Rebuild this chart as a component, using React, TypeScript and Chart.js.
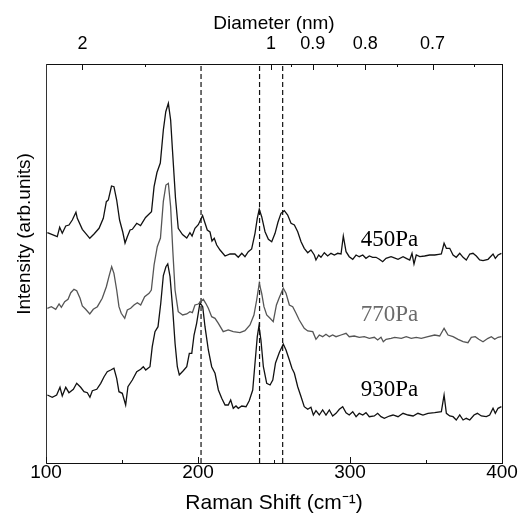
import React, { useEffect, useRef } from 'react';
import { Chart, registerables } from 'chart.js';

Chart.register(...registerables);

// ---- Data (Raman shift in cm^-1, intensity in arbitrary units, traces offset) ----
const shift450 = [100.9,107.4,109.0,110.7,113.0,115.1,117.3,119.7,120.6,123.9,126.1,128.8,131.6,134.9,137.7,139.7,141.0,143.1,144.7,146.5,148.4,150.5,152.0,153.5,155.3,156.8,159.7,162.2,165.5,169.4,171.1,173.0,175.2,177.2,178.8,180.5,182.0,183.2,185.2,187.0,189.8,192.6,194.7,196.1,198.0,200.2,203.0,204.6,206.1,207.9,209.2,210.7,212.3,214.5,217.8,221.1,224.3,226.5,228.8,230.9,233.1,235.3,237.5,239.0,240.3,241.9,244.1,246.3,248.5,250.7,252.6,254.6,256.8,259.0,261.2,263.4,265.6,267.8,269.9,272.2,274.3,276.5,277.6,279.4,280.9,283.1,285.3,287.5,289.7,291.9,294.1,295.6,297.4,299.5,301.8,304.0,306.1,308.4,310.5,312.7,314.9,317.1,319.3,321.5,323.7,327.0,328.3,331.6,334.9,337.0,339.3,340.8,342.1,343.6,345.9,349.1,352.4,355.7,358.4,360.1,361.9,363.4,365.6,367.8,369.9,372.2,374.4,376.5,378.8,380.9,383.1,385.3,387.5,390.8,394.1,395.6,397.4,399.6];
const int450 = [230.3,226.3,235.7,229.7,237,238,243,250.7,244.7,233.7,229.7,224.7,229,234.7,244.7,261.3,263,277,276.3,263,243,231,220,226.3,233,233.7,239.7,237.5,245.5,251.3,276.3,290.5,300,333,351.3,359.7,343,313,264.7,234.7,228.5,225,230.3,227,234.7,238.3,247.5,240,233,231,222,224.7,218,213,207,209,209,205.7,209.7,206.3,211.3,214,229.7,244.7,253.7,246.3,231.3,223.7,221.3,229.7,240.7,249.7,252.3,248,239.7,238,231.3,221.3,214.7,210.3,213,208,203,208,205.7,210.3,207,209.7,208,209.7,209,227,211.3,206.3,203.7,208,206.3,208,204.7,207,205.7,205.7,203.7,201.3,204.7,206.3,205.7,203.7,206.3,204.7,203,209.7,199,208,206.3,207,208,208,208.7,209,219.7,214.7,214.7,208,205.7,209.7,205.7,203,209,209.7,207,203,202.3,203.7,209,204.7,208,209.7];

const shift770 = [100.9,103.5,106.4,108.6,110.1,112.3,114.5,116.3,118.4,120.2,122.4,123.9,126.1,128.8,131.1,133.8,137.0,139.7,141.4,143.2,144.7,146.5,148.0,149.5,151.8,153.5,155.7,157.9,160.1,162.3,164.9,167.8,169.3,171.1,173.2,175.3,177.2,178.9,180.5,182.0,183.4,184.9,187.0,189.9,192.6,194.7,196.3,198.0,200.2,201.8,203.5,205.1,206.8,209.0,211.2,213.4,216.6,219.9,223.2,227.6,230.9,234.2,236.8,238.6,240.3,241.9,243.4,245.2,247.4,249.5,251.6,253.5,256.1,257.9,260.1,262.3,264.5,266.6,269.9,272.2,275.5,277.6,279.8,282.0,284.2,286.4,288.6,290.8,294.1,297.4,299.5,302.8,306.1,309.4,312.7,316.0,318.2,320.4,321.9,323.7,327.0,329.4,333.8,337.0,340.3,343.6,346.9,351.3,355.7,359.0,361.9,364.5,367.8,371.1,374.4,377.6,379.8,382.4,384.7,387.5,390.8,393.0,395.2,397.4,399.6];
const int770 = [154.7,156.3,153.7,159,155.7,161.3,163.7,170.3,173.7,172.3,164.7,157,153.7,149,153.7,156.3,164.7,176.3,186.3,196.3,189.7,173,156.3,149.7,144.7,153,154.7,158,160.3,158,166.3,169.7,173,198,216.3,225,261.7,278,279.7,256.3,213,173,151.3,148,149,151.3,150.3,158,159,161.3,163.7,159.7,154.7,146.3,144.7,139.7,131.3,133,131.3,130.3,132.3,138,148,163,179.7,169.7,156.3,148,144.7,141.3,158,165.5,174.7,169.7,158,156.3,149.7,143,134.7,132,131.3,123.7,128,126.3,128.7,126.3,128,126.3,128,129.7,126.3,127,125.7,126.3,124.7,125.7,123,125.7,121.3,123.7,124.7,125.7,124.7,126.3,124.7,125.7,124.7,126.3,128,127,134.7,128,126.3,123.7,121.3,120.3,125.7,126.3,123.7,121.3,124.7,126.3,123.7,125.7,126.3];

const shift930 = [100.9,104.1,107.0,109.2,110.7,113.0,115.1,118.0,120.2,122.8,125.0,127.2,128.9,130.5,133.4,136.0,138.2,140.3,142.6,144.7,146.5,148.0,150.2,152.4,153.9,156.8,159.7,162.3,164.0,165.6,168.4,169.9,171.7,173.7,175.5,177.2,178.9,180.1,181.6,183.4,184.9,186.4,187.7,190.3,192.6,194.3,195.9,197.4,199.1,201.3,203.1,204.6,206.8,209.0,211.2,213.4,215.6,217.8,219.9,221.5,223.2,225.0,226.5,228.8,231.6,233.7,236.0,237.5,239.0,240.1,241.4,243.0,245.2,247.4,249.2,251.0,253.5,256.1,257.9,260.1,261.8,263.4,265.6,267.8,269.9,272.2,274.3,275.9,277.6,279.8,282.0,284.2,286.4,288.6,290.8,293.0,295.2,297.4,299.5,301.8,304.0,306.1,308.4,310.5,312.7,316.0,318.2,320.4,322.6,325.9,328.3,331.6,334.9,338.2,341.5,344.7,348.0,351.3,355.7,360.1,361.9,363.4,365.6,367.8,369.9,372.2,374.4,376.5,378.8,381.6,383.8,386.4,389.7,391.9,394.1,395.6,397.4,399.6];
const int930 = [68,65.7,68,75.7,67,75.7,70.3,73.7,79.7,75.7,71.3,70.3,65.7,72.3,73.7,79.7,86.3,91.3,93,94.7,84.7,71.3,69.7,58,76.3,83,91.3,93.7,96.3,93,96.3,116.3,131.3,136.3,159.7,187.5,196.3,199,186.3,153,119.7,96.3,88,92.3,96.3,109.7,109.7,128,139.7,160.3,156.3,136.3,113,96.3,89.7,73,64.7,58,58,63,54.7,57,54.7,57,56.3,62.3,73,99.7,126.3,137,123,96.3,79.7,78,83,100,110.5,119,113,103,94.7,89.7,76.3,66.3,56.3,53.7,55.7,48,52.3,48,53,48,53,47,49.7,53.7,56.3,50.3,48,51.3,46.3,49.7,48,50.3,46.3,47,49.7,46.3,44.7,47,48,46.3,49.7,48,47,49.7,48,49.7,50.3,51.3,68,49.7,47,46.3,43,48,43,44.7,43,48,49.7,47,46.3,48,54.7,49.7,54.7,56.3];

const seriesNames = ['450Pa', '770Pa', '930Pa'];
const labelShift = 326;
const labelIntensity = [223, 148.5, 73.5];

const dashedShifts = [202, 240.5, 255.7];
const bottomTicks = [100, 200, 300, 400];
const bottomMinor = [150, 250, 350];
const diameterTicks = [2, 1, 0.9, 0.8, 0.7];
const diameterLabels = ['2', '1', '0.9', '0.8', '0.7'];
const diameterMinor = [1.5, 0.95, 0.85, 0.75, 0.65];
const rbmConstant = 248; // shift = 248 / diameter

const X_MIN = 100, X_MAX = 400, Y_MIN = 0, Y_MAX = 399;

const SANS = '"Liberation Sans", Arial, sans-serif';
const SERIF = '"Liberation Serif", "Times New Roman", serif';

const zip = (xs: number[], ys: number[]) => xs.map((x, i) => ({ x, y: ys[i] }));

const overlayPlugin = {
  id: 'overlay',
  afterDraw(chart: any) {
    const ctx = chart.ctx as CanvasRenderingContext2D;
    const xs = chart.scales.x;
    const ys = chart.scales.y;
    const { top, bottom } = chart.chartArea;
    ctx.save();
    ctx.strokeStyle = '#111';
    ctx.lineWidth = 1;
    const tick = (v: number, atBottom: boolean, len: number) => {
      const px = Math.round(xs.getPixelForValue(v)) + 0.5;
      ctx.beginPath();
      if (atBottom) {
        ctx.moveTo(px, bottom);
        ctx.lineTo(px, bottom - len);
      } else {
        ctx.moveTo(px, top);
        ctx.lineTo(px, top + len);
      }
      ctx.stroke();
    };
    bottomTicks.forEach((v) => tick(v, true, 6));
    bottomMinor.forEach((v) => tick(v, true, 3));
    diameterTicks.forEach((d) => tick(rbmConstant / d, false, 6));
    diameterMinor.forEach((d) => tick(rbmConstant / d, false, 3));

    // series labels
    const colors = ['#000', '#6b6b6b', '#000'];
    ctx.font = `23px ${SERIF}`;
    ctx.textAlign = 'center';
    ctx.textBaseline = 'middle';
    seriesNames.forEach((name, i) => {
      ctx.fillStyle = colors[i];
      ctx.fillText(name, xs.getPixelForValue(labelShift), ys.getPixelForValue(labelIntensity[i]));
    });

    // y axis title
    ctx.fillStyle = '#000';
    ctx.font = `19px ${SANS}`;
    ctx.translate(25, 234);
    ctx.rotate(-Math.PI / 2);
    ctx.fillText('Intensity (arb.units)', 0, 0);
    ctx.restore();
  },
};

export default function App() {
  const ref = useRef<HTMLCanvasElement | null>(null);

  useEffect(() => {
    if (!ref.current) return;
    const traceColors = ['#111', '#555', '#111'];
    const traces = [zip(shift450, int450), zip(shift770, int770), zip(shift930, int930)];
    const datasets: any[] = traces.map((data, i) => ({
      label: seriesNames[i],
      data,
      borderColor: traceColors[i],
      borderWidth: 1.3,
      pointRadius: 0,
      fill: false,
      tension: 0,
    }));
    dashedShifts.forEach((s) => {
      datasets.push({
        label: 'ref' + s,
        data: [{ x: s, y: Y_MIN }, { x: s, y: Y_MAX }],
        borderColor: '#111',
        borderWidth: 1.2,
        borderDash: [5, 3],
        pointRadius: 0,
        fill: false,
      });
    });

    const chart = new Chart(ref.current, {
      type: 'line',
      data: { datasets },
      options: {
        animation: false,
        responsive: false,
        parsing: false as any,
        layout: { padding: 0 },
        plugins: { legend: { display: false }, tooltip: { enabled: false } },
        scales: {
          x: {
            type: 'linear',
            position: 'bottom',
            min: X_MIN,
            max: X_MAX,
            afterBuildTicks: (s: any) => {
              s.ticks = bottomTicks.map((v) => ({ value: v }));
            },
            afterFit: (s: any) => {
              s.height = 59;
            },
            ticks: {
              autoSkip: false,
              maxRotation: 0,
              padding: -2,
              color: '#000',
              font: { family: SANS, size: 19 },
            },
            grid: { display: false, drawTicks: false },
            border: { display: true, color: '#111', width: 1 },
            title: {
              display: true,
              text: 'Raman Shift (cm\u207B\u00B9)',
              color: '#000',
              font: { family: SANS, size: 21 },
              padding: { top: 0, bottom: 6 },
            },
          },
          x2: {
            type: 'linear',
            position: 'top',
            min: X_MIN,
            max: X_MAX,
            afterBuildTicks: (s: any) => {
              s.ticks = diameterTicks.map((d) => ({ value: rbmConstant / d }));
            },
            afterFit: (s: any) => {
              s.height = 64;
            },
            ticks: {
              autoSkip: false,
              maxRotation: 0,
              padding: 9,
              color: '#000',
              font: { family: SANS, size: 18 },
              callback: (_v: any, i: number) => diameterLabels[i],
            },
            grid: { display: false, drawTicks: false },
            border: { display: true, color: '#111', width: 1 },
            title: {
              display: true,
              text: 'Diameter (nm)',
              color: '#000',
              font: { family: SANS, size: 19 },
              padding: { top: 12, bottom: 0 },
            },
          },
          y: {
            type: 'linear',
            position: 'left',
            min: Y_MIN,
            max: Y_MAX,
            afterFit: (s: any) => {
              s.width = 46;
            },
            ticks: { display: false },
            grid: { display: false, drawTicks: false },
            border: { display: true, color: '#333', width: 1 },
          },
          y2: {
            type: 'linear',
            position: 'right',
            min: Y_MIN,
            max: Y_MAX,
            afterFit: (s: any) => {
              s.width = 30;
            },
            ticks: { display: false },
            grid: { display: false, drawTicks: false },
            border: { display: true, color: '#111', width: 1 },
          },
        },
      } as any,
      plugins: [overlayPlugin],
    });
    return () => chart.destroy();
  }, []);

  return (
    <div style={{ position: 'fixed', left: 0, top: 0, width: 532, height: 522, background: '#fff' }}>
      <canvas ref={ref} width={532} height={522} style={{ display: 'block' }} />
    </div>
  );
}
